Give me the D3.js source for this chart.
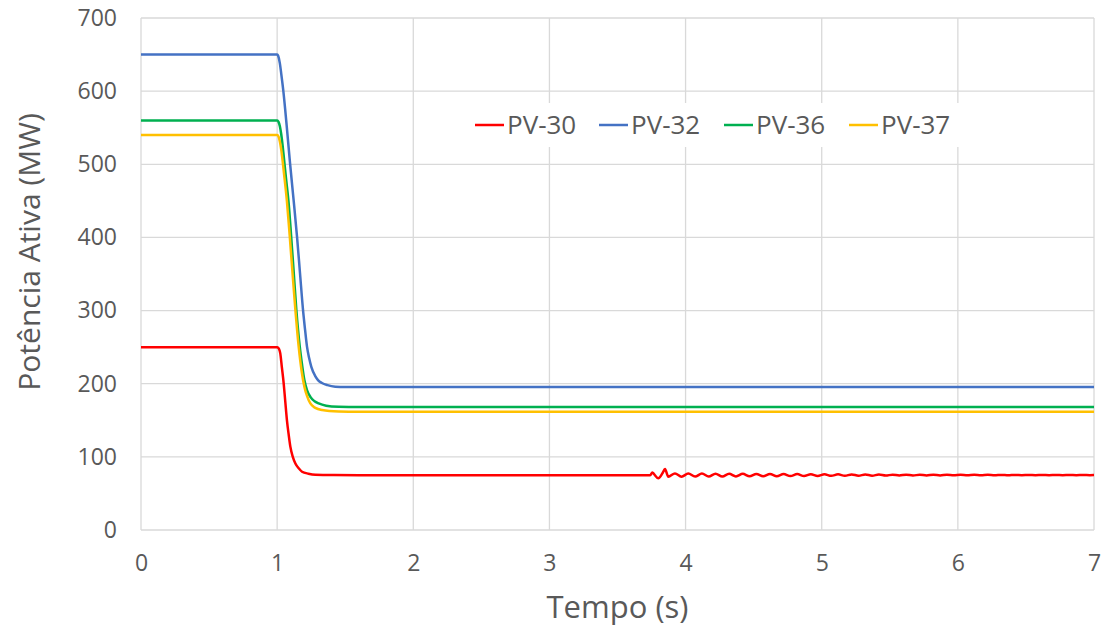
<!DOCTYPE html>
<html>
<head>
<meta charset="utf-8">
<script src="https://cdn.jsdelivr.net/npm/d3@7"></script>
<style>
  body { margin: 0; background: #fff; }
  svg { display: block; }
  text { font-family: "Open Sans", sans-serif; fill: #595959; }
</style>
</head>
<body>
<svg id="chart" width="1109" height="633"></svg>
<script>
// ---- Data (time in s, power in MW) ----
const xTicks = [0, 1, 2, 3, 4, 5, 6, 7];
const yTicks = [0, 100, 200, 300, 400, 500, 600, 700];
const seriesNames = ["PV-30", "PV-32", "PV-36", "PV-37"];
const seriesColors = ["#FF0000", "#4472C4", "#00B050", "#FFC000"];

const pv30 = [
  [0, 250], [1.0, 250], [1.008, 249], [1.015, 247], [1.023, 241.5], [1.035, 222], [1.048, 200.6],
  [1.06, 175], [1.072, 150], [1.085, 130], [1.097, 114], [1.115, 100], [1.134, 91], [1.16, 84],
  [1.183, 79.7], [1.23, 77], [1.281, 75.6], [1.4, 75.1], [1.6, 75], [3.74, 75], [3.756, 78.7],
  [3.77, 76], [3.80, 70.7], [3.83, 77.5], [3.849, 83.4], [3.873, 72.9],
  [3.922, 77.3], [3.97, 72.9], [4.02, 77.2], [4.07, 73.0], [4.12, 77.1], [4.17, 73.1],
  [4.22, 77.0], [4.27, 73.2], [4.32, 76.9], [4.37, 73.3], [4.42, 76.8], [4.47, 73.4],
  [4.52, 76.7], [4.57, 73.5], [4.62, 76.6], [4.67, 73.6], [4.72, 76.5], [4.77, 73.7],
  [4.82, 76.4], [4.87, 73.8], [4.92, 76.3], [4.97, 73.9], [5.02, 76.2], [5.07, 74.0],
  [5.12, 76.1], [5.17, 74.1], [5.22, 76.0], [5.27, 74.2], [5.32, 75.9], [5.37, 74.3],
  [5.42, 75.8], [5.47, 74.4], [5.52, 75.7], [5.57, 74.5], [5.62, 75.7], [5.67, 74.5],
  [5.72, 75.6], [5.77, 74.6], [5.82, 75.6], [5.87, 74.6], [5.92, 75.5], [5.97, 74.7],
  [6.02, 75.5], [6.07, 74.7], [6.12, 75.4], [6.17, 74.8], [6.22, 75.4], [6.27, 74.8],
  [6.32, 75.3], [6.37, 74.8], [6.42, 75.3], [6.47, 74.9], [6.52, 75.3], [6.57, 74.9],
  [6.62, 75.2], [6.67, 74.9], [6.72, 75.2], [6.77, 74.9], [6.82, 75.2], [6.87, 75.0],
  [6.92, 75.1], [6.97, 75.0], [7.0, 75.1]
];
const pv32 = [
  [0, 650], [1.0, 650], [1.008, 648], [1.02, 638], [1.03, 624], [1.045, 601], [1.07, 553],
  [1.094, 503], [1.121, 451], [1.146, 401], [1.168, 351], [1.19, 301], [1.205, 274],
  [1.219, 251], [1.235, 235], [1.251, 223], [1.281, 210], [1.3, 205], [1.329, 201],
  [1.37, 198], [1.427, 196], [1.5, 195.5], [7.0, 195.5]
];
const pv36 = [
  [0, 560], [1.0, 560], [1.01, 558], [1.02, 552], [1.03, 541], [1.04, 526], [1.05, 508],
  [1.065, 481], [1.085, 446], [1.102, 404], [1.12, 357], [1.141, 301], [1.166, 251],
  [1.183, 226], [1.2, 205], [1.22, 191], [1.244, 182], [1.275, 176], [1.305, 173],
  [1.36, 170], [1.452, 168.5], [1.6, 168], [7.0, 168]
];
const pv37 = [
  [0, 540], [1.0, 540], [1.01, 538], [1.02, 531], [1.03, 520], [1.04, 505], [1.05, 488],
  [1.072, 449], [1.092, 403], [1.113, 351], [1.134, 301], [1.158, 251], [1.18, 217],
  [1.2, 196], [1.22, 183], [1.244, 173], [1.28, 167], [1.33, 164], [1.452, 162],
  [1.6, 161.5], [7.0, 161.5]
];
const seriesData = [pv30, pv32, pv36, pv37];

// ---- Layout ----
const W = 1109, H = 633;
const margin = { left: 141, top: 18, right: 15, bottom: 103 };
const svg = d3.select("#chart");

const x = d3.scaleLinear().domain([0, 7]).range([margin.left, W - margin.right]);
const y = d3.scaleLinear().domain([0, 700]).range([H - margin.bottom, margin.top]);

// gridlines
const grid = svg.append("g");
grid.selectAll("line.h").data(yTicks).join("line")
  .attr("x1", x(0)).attr("x2", x(7))
  .attr("y1", d => y(d)).attr("y2", d => y(d))
  .attr("stroke", "#d9d9d9").attr("stroke-width", 1.3);
grid.selectAll("line.v").data(xTicks).join("line")
  .attr("y1", y(0)).attr("y2", y(700))
  .attr("x1", d => x(d)).attr("x2", d => x(d))
  .attr("stroke", "#d9d9d9").attr("stroke-width", 1.3);

// axes labels via d3 axes
const yAxis = svg.append("g").attr("transform", `translate(${x(0)},0)`)
  .call(d3.axisLeft(y).tickValues(yTicks).tickFormat(d3.format("d")).tickSize(0).tickPadding(24));
const xAxis = svg.append("g").attr("transform", `translate(0,${y(0)})`)
  .call(d3.axisBottom(x).tickValues(xTicks).tickFormat(d3.format("d")).tickSize(0).tickPadding(25));
[yAxis, xAxis].forEach(a => {
  a.select(".domain").remove();
  a.selectAll("text").style("font-size", "23px").attr("fill", "#595959")
    .style("font-family", "'Open Sans', sans-serif");
});

// legend background (white box interrupting gridlines)
const legendY = 125;
svg.append("rect").attr("x", 463).attr("y", 103).attr("width", 502).attr("height", 44)
  .attr("fill", "#fff");

// lines
const line = d3.line().x(d => x(d[0])).y(d => y(d[1])).curve(d3.curveMonotoneX);
svg.append("g").selectAll("path").data(seriesData).join("path")
  .attr("d", line)
  .attr("fill", "none")
  .attr("stroke", (d, i) => seriesColors[i])
  .attr("stroke-width", 2.5)
  .attr("stroke-linejoin", "round");

// legend
const legendX = [475, 599, 724, 849];
const lg = svg.append("g");
seriesNames.forEach((name, i) => {
  lg.append("line").attr("x1", legendX[i]).attr("x2", legendX[i] + 29)
    .attr("y1", legendY).attr("y2", legendY)
    .attr("stroke", seriesColors[i]).attr("stroke-width", 2.5);
  lg.append("text").attr("x", legendX[i] + 32).attr("y", legendY)
    .attr("dy", "0.35em").style("font-size", "26px").text(name);
});

// axis titles
svg.append("text").attr("x", x(3.5)).attr("y", 607).attr("text-anchor", "middle")
  .attr("dy", "0.35em").style("font-size", "31px").text("Tempo (s)");
svg.append("text").attr("transform", "translate(29,252) rotate(-90)")
  .attr("text-anchor", "middle").attr("dy", "0.35em").style("font-size", "30px")
  .text("Potência Ativa (MW)");
</script>
</body>
</html>
